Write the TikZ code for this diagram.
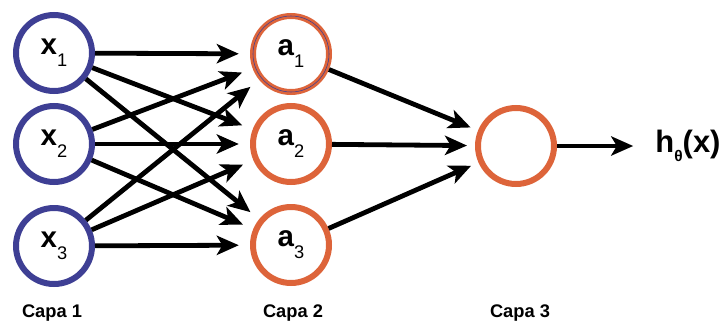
\documentclass[tikz,border=0pt]{standalone}
\usepackage{fontspec}
\setmainfont{Liberation Sans}
\usetikzlibrary{arrows.meta}
\definecolor{inblue}{RGB}{62, 63, 148}
\definecolor{hidorange}{RGB}{221, 100, 58}

% label of one neuron: bold letter, lowered index
\newcommand{\neuronlab}[2]{#1\raisebox{-8.5pt}{\fontsize{13}{15}\selectfont\mdseries #2}}

\begin{document}
\begin{tikzpicture}[
    inneuron/.style={draw=inblue, circle, line width=0.15cm, minimum size=1.9cm, inner sep=0pt, font=\fontsize{21}{23}\selectfont\bfseries},
    hidneuron/.style={inneuron, draw=hidorange},
    conn/.style={line width=0.12cm, -{Stealth[length=0.55cm, width=0.48cm, inset=0.14cm]}, shorten >=0.28cm},
    layerlab/.style={font=\fontsize{13}{15}\selectfont\bfseries}
  ]
  \useasboundingbox (0, 0) rectangle (18.025, -8.225);

  % Layer 1: inputs
  \node[inneuron] (x1) at (1.35, -1.325) {\neuronlab{x}{1}};
  \node[inneuron] (x2) at (1.35, -3.6) {\neuronlab{x}{2}};
  \node[inneuron] (x3) at (1.35, -6.15) {\neuronlab{x}{3}};

  % Layer 2: hidden units
  \node[hidneuron, postaction={draw=inblue, line width=0.4pt}] (a1) at (7.275, -1.35) {\neuronlab{a}{1}};
  \node[hidneuron] (a2) at (7.275, -3.6) {\neuronlab{a}{2}};
  \node[hidneuron] (a3) at (7.275, -6.125) {\neuronlab{a}{3}};

  % Layer 3: output unit
  \node[hidneuron] (out) at (12.9, -3.65) {};
  \node[inner sep=0pt, font=\fontsize{22}{24}\selectfont\bfseries] (hx) at (17.2, -3.65) {h\raisebox{-6.5pt}{\fontsize{11}{13}\selectfont θ}(x)};

  % Connections layer 1 -> layer 2
  \draw[conn] (x1) -- (a1);
  \draw[conn] (x1) -- (a2);
  \draw[conn] (x1) -- (a3);
  \draw[conn] (x2) -- (a1);
  \draw[conn] (x2) -- (a2);
  \draw[conn] (x2) -- (a3);
  \draw[conn] (x3) -- (a1);
  \draw[conn] (x3) -- (a2);
  \draw[conn] (x3) -- (a3);

  % Connections layer 2 -> layer 3
  \draw[conn, shorten >=0.2cm] (a1) -- (out);
  \draw[conn, shorten >=0.2cm] (a2) -- (out);
  \draw[conn, shorten >=0.2cm] (a3) -- (out);

  % Output
  \draw[conn, shorten >=0.55cm] (out) -- (hx);

  % Layer names
  \node[layerlab] (cap1) at (1.3, -7.825) {Capa 1};
  \node[layerlab] (cap2) at (7.325, -7.825) {Capa 2};
  \node[layerlab] (cap3) at (13.0, -7.825) {Capa 3};
\end{tikzpicture}
\end{document}
